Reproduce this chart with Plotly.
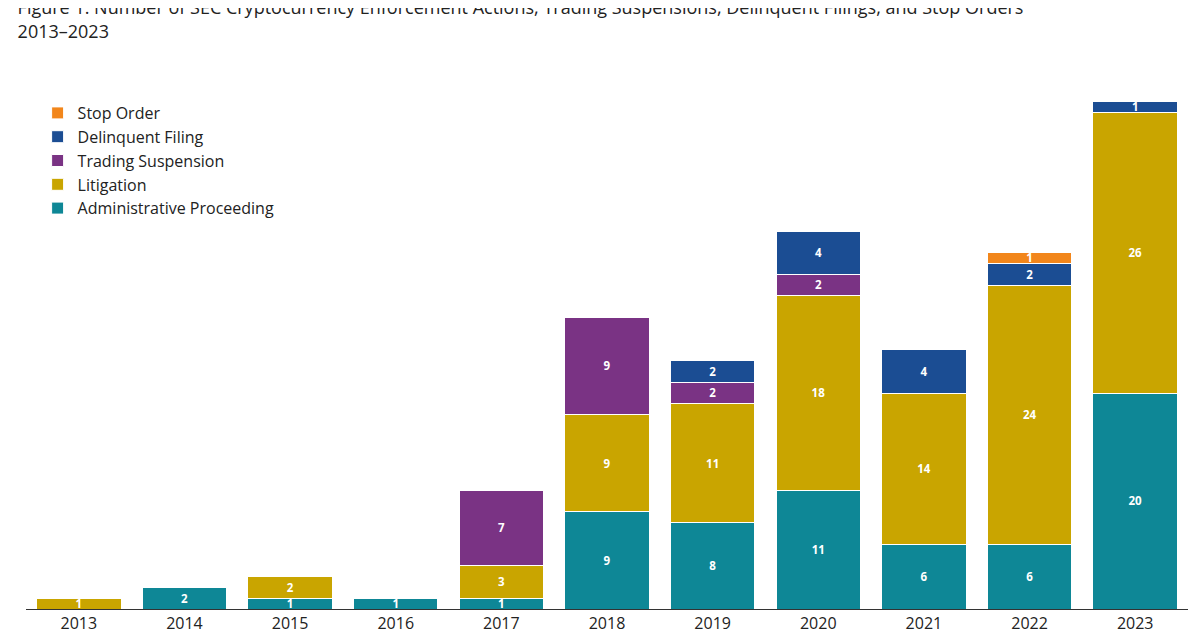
import plotly.graph_objects as go

years = ["2013", "2014", "2015", "2016", "2017", "2018", "2019", "2020", "2021", "2022", "2023"]
admin = [0, 2, 1, 1, 1, 9, 8, 11, 6, 6, 20]
litigation = [1, 0, 2, 0, 3, 9, 11, 18, 14, 24, 26]
suspension = [0, 0, 0, 0, 7, 9, 2, 2, 0, 0, 0]
delinquent = [0, 0, 0, 0, 0, 0, 2, 4, 4, 2, 1]
stop_order = [0, 0, 0, 0, 0, 0, 0, 0, 0, 1, 0]

series = [
    ("Administrative Proceeding", admin, "#0E8796"),
    ("Litigation", litigation, "#C9A500"),
    ("Trading Suspension", suspension, "#7A3384"),
    ("Delinquent Filing", delinquent, "#1B4D93"),
    ("Stop Order", stop_order, "#F2861B"),
]

fig = go.Figure()
for name, vals, color in series:
    fig.add_trace(go.Bar(
        x=years, y=[v if v else None for v in vals], name=name,
        marker=dict(color=color, line=dict(color="white", width=1)),
        text=[f"<b>{v}</b>" if v else "" for v in vals],
        textposition="inside", insidetextanchor="middle",
        textfont=dict(color="white", size=17, family="Open Sans"),
        textangle=0,
    ))

fig.update_layout(
    barmode="stack", bargap=0.2,
    width=1200, height=644,
    plot_bgcolor="white", paper_bgcolor="white",
    font=dict(family="Open Sans", size=16, color="#222"),
    title=dict(text="Figure 1: Number of SEC Cryptocurrency Enforcement Actions, Trading Suspensions, Delinquent Filings, and Stop Orders<br>2013–2023",
               x=0.008, xanchor="left", yref="container", y=0.99, yanchor="top",
               font=dict(size=18, family="Open Sans")),
    legend=dict(x=0.01, y=1.0, xanchor="left", yanchor="top", traceorder="reversed",
                font=dict(size=16), itemwidth=30, tracegroupgap=0),
    margin=dict(l=18, r=20, t=88, b=43),
    uniformtext=dict(minsize=9, mode="show"),
    showlegend=True,
)
fig.update_xaxes(showline=True, linecolor="#333", linewidth=1, ticks="", tickfont=dict(size=16))
fig.update_yaxes(visible=False, range=[0, 47.5])

fig.write_html("out.html")
